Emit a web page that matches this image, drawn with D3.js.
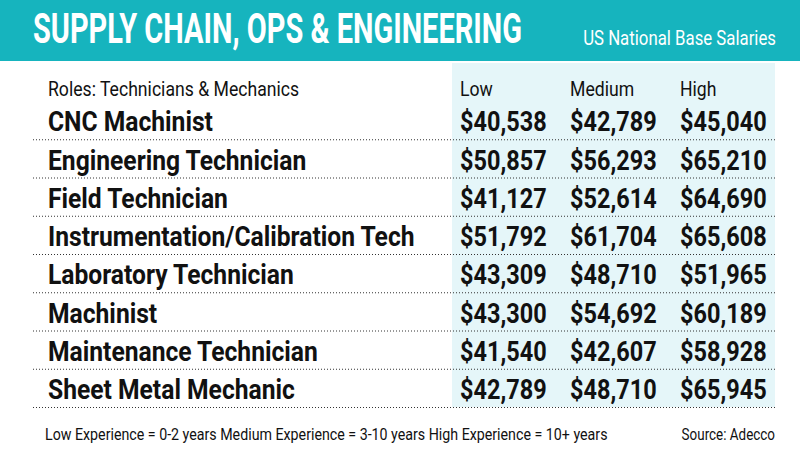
<!DOCTYPE html>
<html><head><meta charset="utf-8">
<script src="https://cdn.jsdelivr.net/npm/d3@7"></script>
<style>html,body{margin:0;padding:0;background:#fff;}svg{display:block;}</style>
</head><body>
<svg id="chart" width="800" height="450"></svg>
<script>
const title = "SUPPLY CHAIN, OPS & ENGINEERING";
const subtitle = "US National Base Salaries";
const rowHeader = "Roles: Technicians & Mechanics";
const levels = ["Low", "Medium", "High"];
const roles = ["CNC Machinist","Engineering Technician","Field Technician","Instrumentation/Calibration Tech","Laboratory Technician","Machinist","Maintenance Technician","Sheet Metal Mechanic"];
const low =    [40538, 50857, 41127, 51792, 43309, 43300, 41540, 42789];
const medium = [42789, 56293, 52614, 61704, 48710, 54692, 42607, 48710];
const high =   [45040, 65210, 64690, 65608, 51965, 60189, 58928, 65945];
const footnote = "Low Experience = 0-2 years Medium Experience = 3-10 years High Experience = 10+ years";
const source = "Source: Adecco";

const svg = d3.select("#chart");
const W = 800, H = 450;
const FONT = "Roboto, 'Liberation Sans', sans-serif";
const teal = "#16b4be", panel = "#e5f6f9", ink = "#111111";

function txt(g, s, x, y, size, weight, sx, fill, anchor) {
  return g.append("text")
    .attr("transform", `translate(${x},${y}) scale(${sx},1)`)
    .attr("font-family", FONT).attr("font-size", size).attr("font-weight", weight)
    .attr("fill", fill || ink).attr("text-anchor", anchor || "start")
    .text(s);
}

// header band
svg.append("rect").attr("x",0).attr("y",0).attr("width",W).attr("height",61).attr("fill",teal);
txt(svg, title, 33, 43, 42, 700, 0.69, "#fff");
txt(svg, subtitle, 776, 45, 20, 400, 0.84, "#fff", "end");

// scales
const y = d3.scaleBand().domain(roles).range([101, 407]).paddingInner(0).paddingOuter(0);
const cols = ["label"].concat(levels);
const x = d3.scaleOrdinal().domain(cols).range([48, 460, 570, 680]);
const fmt = d3.format("$,");

// value panel
svg.append("rect").attr("x",452).attr("y",63).attr("width",323).attr("height",344).attr("fill",panel);

// header row
txt(svg, rowHeader, x("label"), 96, 21, 400, 0.84);
levels.forEach(l => txt(svg, l, x(l), 96, 21, 400, 0.84));

// rows
const series = {Low: low, Medium: medium, High: high};
const rowG = svg.append("g").selectAll("g").data(roles).join("g");
rowG.each(function(r, i) {
  const g = d3.select(this);
  const base = y(r) + y.bandwidth() - 8;
  txt(g, r, x("label"), base, 28, 700, 0.88);
  levels.forEach(l => txt(g, fmt(series[l][i]), x(l), base, 28, 700, 0.84));
  g.append("line").attr("x1",33).attr("x2",775)
    .attr("y1", y(r) + y.bandwidth() + 0.5).attr("y2", y(r) + y.bandwidth() + 0.5)
    .attr("stroke","#333").attr("stroke-width",1).attr("stroke-dasharray","1,2");
});

// footer
txt(svg, footnote, 45, 440, 16, 400, 0.89);
txt(svg, source, 775, 440, 16, 400, 0.84, ink, "end");
</script>
</body></html>
